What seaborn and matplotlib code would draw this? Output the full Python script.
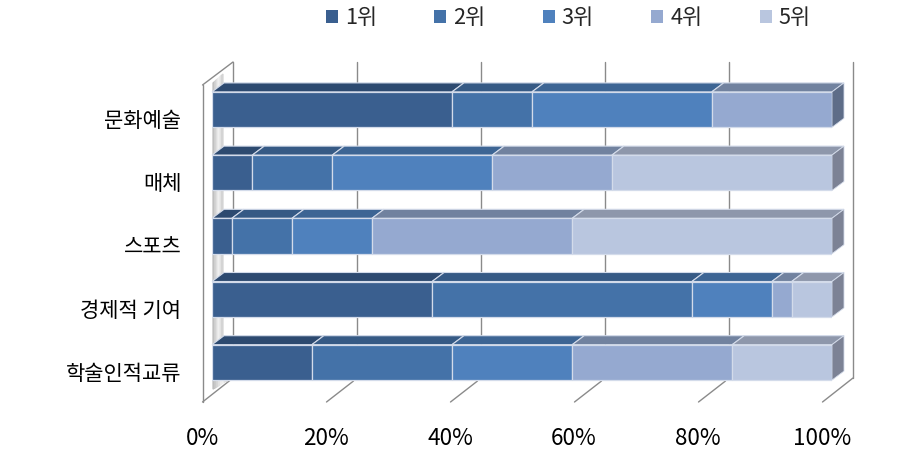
import numpy as np
import pandas as pd
import matplotlib
matplotlib.use("Agg")
import matplotlib.pyplot as plt
from matplotlib.patches import Polygon
from matplotlib.lines import Line2D
from matplotlib.transforms import IdentityTransform, ScaledTranslation
import seaborn as sns

categories = ["문화예술", "매체", "스포츠", "경제적 기여", "학술인적교류"]
ranks = ["1위", "2위", "3위", "4위", "5위"]
rank1 = [38.7, 6.5, 3.2, 35.5, 16.1]
rank2 = [12.9, 12.9, 9.7, 41.9, 22.6]
rank3 = [29.0, 25.8, 12.9, 12.9, 19.4]
rank4 = [19.4, 19.3, 32.3, 3.2, 25.8]
rank5 = [0.0, 35.5, 41.9, 6.5, 16.1]
colors = ["#3A5F8F", "#4472A8", "#4F81BD", "#95A9D0", "#B9C6DF"]
top_colors = ["#2D4A70", "#365A85", "#3D6594", "#71829F", "#8E97AB"]
side_colors = ["#2A4060", "#30496B", "#35547A", "#5E6D88", "#7C8295"]
tick_values = [0, 20, 40, 60, 80, 100]
tick_labels = ["0%", "20%", "40%", "60%", "80%", "100%"]

sns.set_theme(style="white")
plt.rcParams["font.family"] = ["Noto Sans CJK KR", "DejaVu Sans"]

W, H = 913, 458
fig = plt.figure(figsize=(W / 100, H / 100), dpi=100)
fig.patch.set_facecolor("white")
ax = fig.add_axes([212 / W, 1 - 394 / H, 620 / W, 316 / H])
ax.patch.set_alpha(0)

df = pd.DataFrame(np.array([rank1, rank2, rank3, rank4, rank5]).T, index=categories, columns=ranks)
left = np.zeros(len(categories))
EDGE = "#D3DBEA"
for name, c in zip(ranks, colors):
    vals = df[name].to_numpy()
    sns.barplot(x=vals, y=categories, left=left, color=c, saturation=1, width=0.56,
                orient="h", edgecolor=EDGE, linewidth=0.9, label=name, ax=ax, zorder=5)
    left = left + vals
ax.set_xlim(0, 100)
ax.set_ylim(4.5, -0.5)
ax.set_xlabel("")
ax.set_ylabel("")
sns.despine(ax=ax, left=True, bottom=True)
ax.grid(False)

ax.set_xticks(tick_values)
ax.set_xticklabels(tick_labels)
ax.tick_params(axis="x", length=0, pad=23.5, labelsize=16.2, colors="black")
ax.tick_params(axis="y", length=0, pad=22, labelsize=15.1, colors="black")
shift_x = ScaledTranslation(-10 / 100, 0, fig.dpi_scale_trans)
for lab in ax.get_xticklabels():
    lab.set_transform(lab.get_transform() + shift_x)
shift_y = ScaledTranslation(0, -9 / 100, fig.dpi_scale_trans)
for lab in ax.get_yticklabels():
    lab.set_transform(lab.get_transform() + shift_y)

ident = IdentityTransform()
def Y(y):
    return H - y

def poly(pts, **kw):
    kw.setdefault("clip_on", False)
    p = Polygon([(x, Y(y)) for x, y in pts], closed=True, transform=ident, **kw)
    ax.add_patch(p)
    return p

def line(xs, ys, **kw):
    l = Line2D(xs, [Y(y) for y in ys], transform=ident, color="#8A8A8A", lw=1.0,
               clip_on=False, zorder=1, **kw)
    ax.add_line(l)

# wall, grid and floor lines from the tick positions
for t in tick_values:
    xf = ax.transData.transform((t, 0))[0]
    line([xf + 21, xf + 21], [62, 378])
    end = t in (0, 100)
    line([xf + 21 if end else xf + 17.5, xf - 9.5], [378 if end else 381, 402])
x0 = ax.transData.transform((0, 0))[0]
line([x0 - 9.5, x0 - 9.5], [85, 402])
line([x0 - 9.5, x0 + 21], [85, 62])

# bar pixel boxes: (left, right, top, bottom) in image pixels
boxes = []
for container in ax.containers:
    row = []
    for r in container:
        (xa, ya), (xb, yb) = ax.transData.transform(
            [(r.get_x(), r.get_y()), (r.get_x() + r.get_width(), r.get_y() + r.get_height())])
        row.append((xa, xb, min(H - ya, H - yb), max(H - ya, H - yb)))
    boxes.append(row)

# shaded side wall pieces between the bars
DX, DY = 12, 9
tops = sorted({round(b[2], 1) for b in boxes[0]})
bots = sorted({round(b[3], 1) for b in boxes[0]})

def wall_piece(xl, xr, ytop_l, ytop_r, ybot_l, ybot_r, n=6):
    for i in range(n):
        a, b = i / n, (i + 1) / n
        u = (i + .5) / n
        g = 0.72 + 0.24 * (u / 0.65 if u < 0.65 else (1 - u) / 0.35 * 0.7 + 0.3)
        xa, xb = xl + (xr - xl) * a, xl + (xr - xl) * b
        ta, tb = ytop_l + (ytop_r - ytop_l) * a, ytop_l + (ytop_r - ytop_l) * b
        ba, bb = ybot_l + (ybot_r - ybot_l) * a, ybot_l + (ybot_r - ybot_l) * b
        poly([(xa, ta), (xb, tb), (xb, bb), (xa, ba)], facecolor=(g, g, g), edgecolor=(g, g, g),
             linewidth=0.9, zorder=2)
xl = x0 + 1
wall_piece(xl, xl + 10, 83, 74, tops[0], tops[0] - 8)
for b, t in zip(bots[:-1], tops[1:]):
    wall_piece(xl, xl + 10, b, b, t, t - 8)
wall_piece(xl, xl + 15, bots[-1], bots[-1], bots[-1] + 9, bots[-1], n=8)

# 3D top and side faces derived from the drawn bars
for k, row in enumerate(boxes):
    for i, (xa, xb, ya, yb) in enumerate(row):
        if xb - xa < 0.5:
            continue
        poly([(xa, ya), (xa + DX, ya - DY), (xb + DX, ya - DY), (xb, ya)],
             facecolor=top_colors[k], edgecolor=EDGE, linewidth=0.8, zorder=4)
        is_last = all(boxes[j][i][1] - boxes[j][i][0] < 0.5 for j in range(k + 1, len(boxes)))
        if is_last:
            poly([(xb, ya), (xb + DX, ya - DY), (xb + DX, yb - DY), (xb, yb)],
                 facecolor=side_colors[k], edgecolor=EDGE, linewidth=0.6, zorder=4)

handles, labels = ax.get_legend_handles_labels()
leg = ax.legend(handles, labels, ncol=5, frameon=False, loc="center left",
                bbox_to_anchor=(326 / W, 1 - 18 / H), bbox_transform=fig.transFigure,
                fontsize=15.7, handlelength=0.55, handleheight=0.55, handletextpad=0.32,
                columnspacing=2.63, borderaxespad=0, borderpad=0)
for h in leg.legend_handles:
    h.set_edgecolor("none")

fig.savefig("out.png", dpi=100)
